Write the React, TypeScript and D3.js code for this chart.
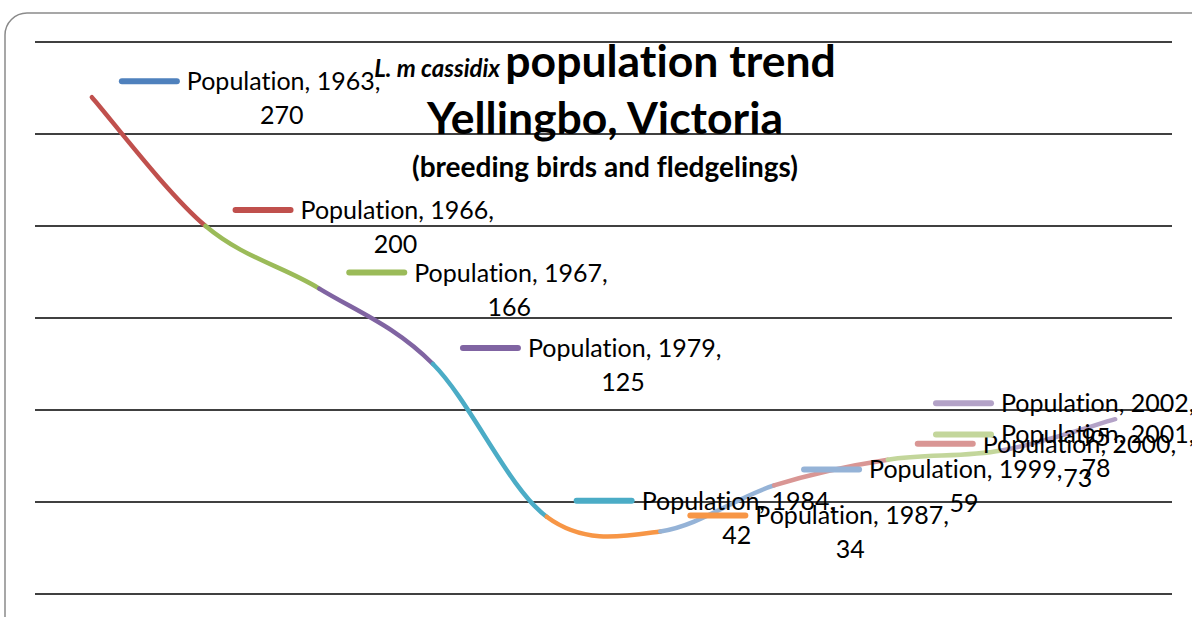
import * as d3 from "d3";

const years = ["1963", "1966", "1967", "1979", "1984", "1987", "1999", "2000", "2001", "2002"];
const population = [270, 200, 166, 125, 42, 34, 59, 73, 78, 95];
const pointColors = [
  "#4F81BD", "#C0504D", "#9BBB59", "#8064A2", "#4BACC6",
  "#F79646", "#95B3D7", "#D99694", "#C3D69B", "#B3A2C7",
];
const yTicks = [0, 50, 100, 150, 200, 250, 300];

const W = 1192;
const H = 617;
const plot = { left: 35, right: 1172, top: 42, bottom: 594 };
const FONT = "Lato, 'Open Sans', sans-serif";

export default function App() {
  const x = d3.scaleBand<string>().domain(years).range([plot.left, plot.right]);
  const y = d3.scaleLinear().domain([0, 300]).range([plot.bottom, plot.top]);

  const pts = years.map((yr, i) => ({
    year: yr,
    value: population[i],
    px: (x(yr) ?? 0) + x.bandwidth() / 2,
    py: y(population[i]),
    color: pointColors[i],
  }));

  // smoothed line, one piece per point (Excel "vary colours by point")
  const segs = pts.slice(1).map((p2, k) => {
    const i = k + 1;
    const p1 = pts[i - 1];
    const p0 = pts[Math.max(0, i - 2)];
    const p3 = pts[Math.min(pts.length - 1, i + 1)];
    const path = d3.path();
    path.moveTo(p1.px, p1.py);
    path.bezierCurveTo(
      p1.px + (p2.px - p0.px) / 6,
      p1.py + (p2.py - p0.py) / 6,
      p2.px - (p3.px - p1.px) / 6,
      p2.py - (p3.py - p1.py) / 6,
      p2.px,
      p2.py,
    );
    return { d: path.toString(), color: p2.color };
  });

  const labelTextW = 190;

  return (
    <svg
      width={W}
      height={H}
      style={{ position: "absolute", left: 0, top: 0, background: "#fff", fontVariantLigatures: "none" }}
      fontFamily={FONT}
    >
      <rect x={5} y={13} width={1230} height={640} rx={22} fill="#fff" stroke="#8a8a8a" strokeWidth={1.5} />

      {yTicks.map((t) => (
        <line key={t} x1={plot.left} x2={plot.right} y1={y(t)} y2={y(t)} stroke="#000" strokeWidth={1.5} />
      ))}

      <g textAnchor="middle" fontWeight="bold" fill="#000">
        <text x={605} y={77}>
          <tspan fontStyle="italic" fontSize={24}>L. m cassidix </tspan>
          <tspan fontSize={44.5}>population trend</tspan>
        </text>
        <text x={605} y={134} fontSize={44.5}>Yellingbo, Victoria</text>
        <text x={605} y={177} fontSize={28}>(breeding birds and fledgelings)</text>
      </g>

      {segs.map((s, i) => (
        <path key={i} d={s.d} fill="none" stroke={s.color} strokeWidth={4.5} strokeLinecap="round" />
      ))}

      {pts.map((p) => {
        const kx = Math.min(p.px + 30, 936);
        const ky = p.py - 16;
        return (
          <g key={p.year}>
            <line x1={kx} x2={kx + 55} y1={ky} y2={ky} stroke={p.color} strokeWidth={6} strokeLinecap="round" />
            <text x={kx + 65} y={ky + 9} fontSize={25} fill="#000">
              {`Population, ${p.year},`}
            </text>
            <text x={kx + 65 + labelTextW / 2} y={ky + 43} fontSize={25} fill="#000" textAnchor="middle">
              {p.value}
            </text>
          </g>
        );
      })}
    </svg>
  );
}
